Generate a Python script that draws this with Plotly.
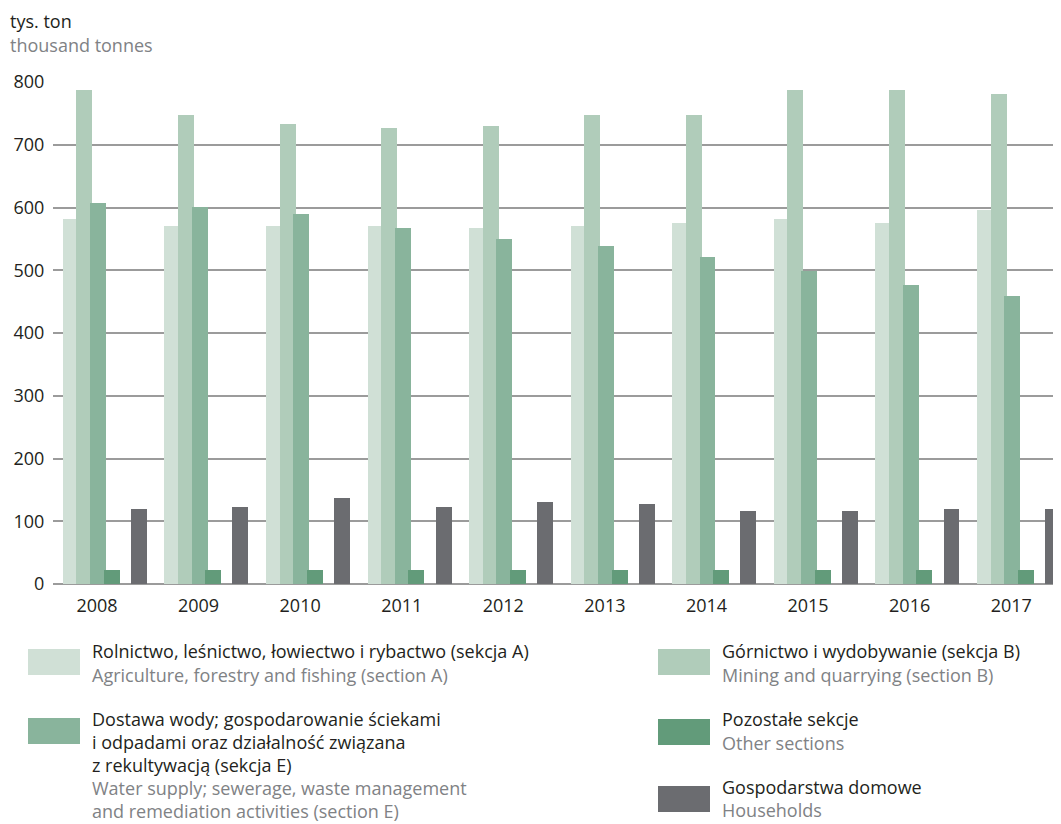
import plotly.graph_objects as go

########
# Data #
########

years = [2008, 2009, 2010, 2011, 2012, 2013, 2014, 2015, 2016, 2017]

agriculture = [582, 570, 570, 570, 567, 570, 575, 582, 575, 596]
mining = [787, 747, 733, 727, 730, 747, 747, 787, 787, 781]
water_supply = [607, 601, 590, 567, 550, 539, 521, 499, 476, 459]
other_sections = [22, 22, 22, 22, 22, 22, 22, 22, 22, 22]
households = [119, 123, 137, 123, 131, 127, 116, 116, 119, 119]

y_ticks = [0, 100, 200, 300, 400, 500, 600, 700, 800]

##########
# Styles #
##########

FONT = "Open Sans"
DARK = "#231f20"
GREY_TEXT = "#808285"
GRID = "#9b9b9b"

COLORS = {
    "A": "#d0e0d6",
    "B": "#b0ccba",
    "E": "#89b49c",
    "O": "#629b7a",
    "H": "#6b6c70",
}

# the page puts the figure 8px in from the top-left corner
OFF = 8
PAGE_W, PAGE_H = 1061, 824
W, H = PAGE_W - OFF, PAGE_H - OFF
PLOT_L, PLOT_R, PLOT_T, PLOT_B = 53 - OFF, 1061 - OFF, 82 - OFF, 584 - OFF

BAR_W = 0.157
STEP = 0.134

series = [
    ("A", agriculture, -2),
    ("B", mining, -1),
    ("E", water_supply, 0),
    ("O", other_sections, 1),
    ("H", households, 3),
]

fig = go.Figure()

for key, values, slot in series:
    center = slot * STEP + 0.01
    fig.add_trace(
        go.Bar(
            x=years,
            y=values,
            width=BAR_W,
            offset=center - BAR_W / 2,
            marker=dict(color=COLORS[key], line=dict(width=0)),
            showlegend=False,
            hoverinfo="y",
        )
    )


# page pixels -> paper coordinates
def px_x(x):
    return (x - OFF - PLOT_L) / (PLOT_R - PLOT_L)


def px_y(y):
    return (PLOT_B - (y - OFF)) / (PLOT_B - PLOT_T)


shapes = []
annotations = []


def text(x, y, s, color=DARK, size=18):
    annotations.append(
        dict(
            x=px_x(x), y=px_y(y), xref="paper", yref="paper",
            text=s, showarrow=False, xanchor="left", yanchor="middle",
            font=dict(family=FONT, size=size, color=color),
        )
    )


def swatch(x0, y0, color):
    shapes.append(
        dict(
            type="rect", xref="paper", yref="paper",
            x0=px_x(x0), x1=px_x(x0 + 52), y0=px_y(y0), y1=px_y(y0 + 26),
            fillcolor=color, line=dict(width=0),
        )
    )


# unit label
text(8, 21, "tys. ton", DARK)
text(8, 45, "thousand tonnes", GREY_TEXT)

# legend, left column
swatch(28, 649, COLORS["A"])
text(90, 651, "Rolnictwo, leśnictwo, łowiectwo i rybactwo (sekcja A)")
text(90, 675, "Agriculture, forestry and fishing (section A)", GREY_TEXT)

swatch(28, 718, COLORS["E"])
text(90, 719, "Dostawa wody; gospodarowanie ściekami")
text(90, 742, "i odpadami oraz działalność związana")
text(90, 765, "z rekultywacją (sekcja E)")
text(90, 788, "Water supply; sewerage, waste management", GREY_TEXT)
text(90, 811, "and remediation activities (section E)", GREY_TEXT)

# legend, right column
swatch(658, 649, COLORS["B"])
text(720, 651, "Górnictwo i wydobywanie (sekcja B)")
text(720, 675, "Mining and quarrying (section B)", GREY_TEXT)

swatch(658, 719, COLORS["O"])
text(720, 719, "Pozostałe sekcje")
text(720, 743, "Other sections", GREY_TEXT)

swatch(658, 786, COLORS["H"])
text(720, 787, "Gospodarstwa domowe")
text(720, 810, "Households", GREY_TEXT)

fig.update_layout(
    width=W,
    height=H,
    barmode="overlay",
    bargap=0,
    plot_bgcolor="white",
    paper_bgcolor="white",
    margin=dict(l=PLOT_L, r=W - PLOT_R, t=PLOT_T, b=H - PLOT_B, pad=0),
    font=dict(family=FONT, size=18, color=DARK),
    shapes=shapes,
    annotations=annotations,
    showlegend=False,
)

fig.update_xaxes(
    range=[2007.567, 2017.49],
    tickvals=years,
    ticktext=[str(y) for y in years],
    showgrid=False,
    zeroline=False,
    showline=False,
    ticks="outside",
    ticklen=5,
    tickcolor="rgba(0,0,0,0)",
    tickfont=dict(family=FONT, size=18, color=DARK),
)

fig.update_yaxes(
    range=[0, 800],
    tickvals=y_ticks,
    showgrid=True,
    gridcolor=GRID,
    gridwidth=1.5,
    zeroline=True,
    zerolinecolor=GRID,
    zerolinewidth=1.5,
    ticks="outside",
    ticklen=4,
    tickcolor="rgba(0,0,0,0)",
    tickfont=dict(family=FONT, size=18, color=DARK),
)

fig.write_html("out.html")
